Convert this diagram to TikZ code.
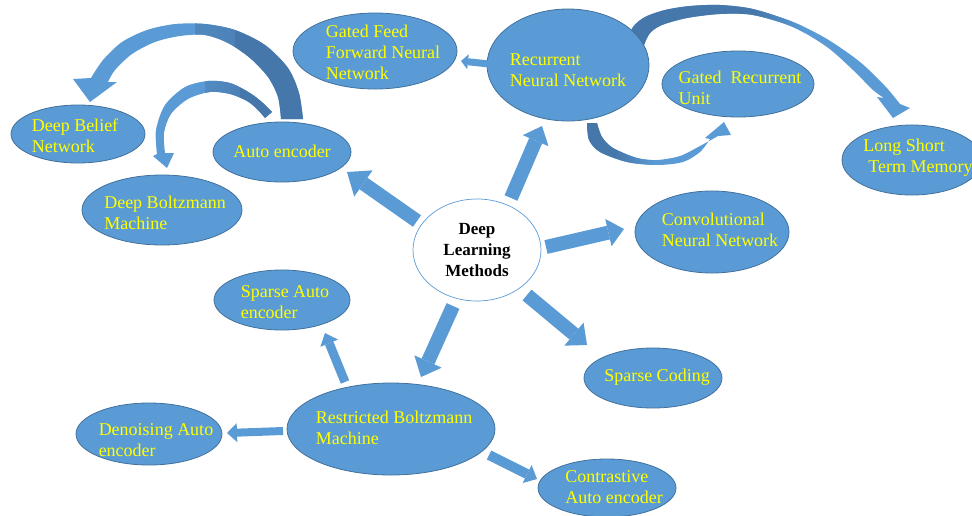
\documentclass[tikz,border=0pt]{standalone}
\usepackage{fontspec}
\setmainfont{Liberation Serif}
\usetikzlibrary{shapes.geometric,arrows.meta}
\definecolor{fillb}{HTML}{5B9BD5}
\definecolor{edgeb}{HTML}{41719C}
\definecolor{darkarc}{HTML}{4677AA}
\definecolor{txty}{HTML}{FFFF00}
\begin{document}
\begin{tikzpicture}[x=1pt,y=-1pt,
  ell/.style={ellipse, draw=edgeb, line width=0.8pt, fill=fillb, inner sep=0pt},
  lbl/.style={text=txty, align=left, font=\fontsize{18}{21}\selectfont, inner sep=0pt},
  barrow/.style n args={3}{draw=fillb, line width=#1, line cap=butt,
     -{Triangle[width=#2,length=#3,line width=0pt]}}]
\useasboundingbox (0,0) rectangle (972,515);
\fill[white] (0,0) rectangle (972,515);

% ---------- curved arrows ----------
% Auto encoder -> Deep Belief Network
\fill[fillb, path picture={
   \shade[left color=fillb, right color=darkarc] (195,0) rectangle (235,200);
   \fill[darkarc] (235,0) rectangle (330,200);}]
  plot[smooth] coordinates {(303,119) (299,93) (288,68) (265,45) (235,30) (205,24) (175,24) (147,30) (122,42) (103,60) (91,78)}
  -- (73,79) -- (90,102) -- (117,82)
  -- plot[smooth] coordinates {(108,82) (115,70) (132,54) (155,42) (180,36) (205,35) (228,43) (250,58) (268,77) (278,97) (281,119)}
  -- cycle;
% Auto encoder -> Deep Boltzmann Machine
\fill[fillb, path picture={
   \shade[left color=fillb, right color=darkarc] (205,0) rectangle (240,200);
   \fill[darkarc] (240,0) rectangle (300,200);}]
  plot[smooth] coordinates {(272,112) (263,103) (250,93) (230,83) (208,81) (185,87) (165,105) (156,130) (157,154)}
  -- (153,156) -- (167,168) -- (174,153)
  -- plot[smooth] coordinates {(165,153) (164,133) (171,114) (188,99) (210,92) (230,94) (247,101) (257,109) (265,118)}
  -- cycle;
% Recurrent NN -> Long Short Term Memory
\fill[fillb, path picture={
   \fill[darkarc] (600,0) rectangle (755,200);
   \shade[left color=darkarc, right color=fillb] (755,0) rectangle (805,200);}]
  plot[smooth] coordinates {(627,42) (633,27) (645,17) (665,10) (690,6) (720,5) (753,9) (793,22) (827,39) (860,62) (885,86) (900,104)}
  -- (910,108) -- (893,118) -- (877,97)
  -- plot[smooth] coordinates {(884,98) (873,90) (853,70) (827,47) (793,27) (753,15) (720,14) (687,18) (662,25) (650,33) (644,45)}
  -- cycle;
% Recurrent NN -> Gated Recurrent Unit
\fill[fillb, path picture={
   \fill[darkarc] (570,100) rectangle (615,200);
   \shade[left color=darkarc, right color=fillb] (615,100) rectangle (655,200);}]
  plot[smooth] coordinates {(587,123) (589,140) (600,152) (627,162) (657,165) (683,162) (700,152) (710,139)}
  -- (705,138) -- (724,122) -- (731,135)
  -- plot[smooth] coordinates {(718,136) (700,146) (680,156) (657,160) (637,158) (613,148) (602,137) (597,123)}
  -- cycle;

% ---------- ellipses ----------
\node[ellipse, draw=fillb, line width=0.7pt, fill=white, minimum width=128pt, minimum height=102pt, inner sep=0pt] (dlm) at (477,250) {};
\node[ell, minimum width=138pt, minimum height=60pt] (ae) at (282,152) {};
\node[ell, minimum width=134pt, minimum height=58pt] (dbn) at (78,134) {};
\node[ell, minimum width=160pt, minimum height=70pt] (dbm) at (162,210) {};
\node[ell, minimum width=164pt, minimum height=76pt] (gffnn) at (375,51) {};
\node[ell, minimum width=162pt, minimum height=112pt] (rnn) at (568,65) {};
\node[ell, minimum width=152pt, minimum height=66pt] (gru) at (738,84) {};
\node[ell, minimum width=140pt, minimum height=70pt] (lstm) at (912,160) {};
\node[ell, minimum width=154pt, minimum height=82pt] (cnn) at (712,232) {};
\node[ell, minimum width=138pt, minimum height=60pt] (sc) at (653,378) {};
\node[ell, minimum width=138pt, minimum height=58pt] (cae) at (607,488) {};
\node[ell, minimum width=136pt, minimum height=60pt] (sae) at (282,300) {};
\node[ell, minimum width=208pt, minimum height=92pt] (rbm) at (391,429) {};
\node[ell, minimum width=146pt, minimum height=62pt] (dae) at (149,434) {};

% ---------- labels ----------
\node[align=center, font=\fontsize{17}{21}\selectfont\bfseries, inner sep=0pt] (dlmt) at (477,250) {Deep\\Learning\\Methods};
\node[lbl] (aet) at (282,151) {Auto encoder};
\node[lbl] (dbnt) at (75,136) {Deep Belief\\Network};
\node[lbl] (dbmt) at (165,213) {Deep Boltzmann\\Machine};
\node[lbl] (gffnnt) at (383,52) {Gated Feed\\Forward Neural\\Network};
\node[lbl] (rnnt) at (568,70) {Recurrent\\Neural Network};
\node[lbl] (grut) at (740,88) {Gated\ \ Recurrent\\Unit};
\node[lbl] (lstmt) at (918,158) {Long Short\\\hspace*{5pt}Term Memory};
\node[lbl] (cnnt) at (720,230) {Convolutional\\Neural Network};
\node[lbl] (sct) at (657,377) {Sparse Coding};
\node[lbl] (caet) at (614,487) {Contrastive\\Auto encoder};
\node[lbl] (saet) at (285,302) {Sparse Auto\\encoder};
\node[lbl] (rbmt) at (394,428) {Restricted Boltzmann\\Machine};
\node[lbl] (daet) at (156,440) {Denoising Auto\\encoder};

% ---------- straight block arrows ----------
\coordinate (s1) at (417,221); \coordinate (e1) at (347,172);
\coordinate (s2) at (511,198); \coordinate (e2) at (542,126);
\coordinate (s3) at (546,247); \coordinate (e3) at (624,229);
\coordinate (s4) at (527,295); \coordinate (e4) at (587,345);
\coordinate (s5) at (453,306); \coordinate (e5) at (421,377);
\coordinate (s6) at (345,382); \coordinate (e6) at (325,333);
\coordinate (s7) at (283,431); \coordinate (e7) at (227,433);
\coordinate (s8) at (489,455); \coordinate (e8) at (537,479);
\coordinate (s9) at (489,64);  \coordinate (e9) at (461,61);
\draw[barrow={14pt}{32pt}{20pt}] (s1) -- (e1);
\draw[barrow={14pt}{28pt}{16pt}] (s2) -- (e2);
\draw[barrow={14pt}{28pt}{16pt}] (s3) -- (e3);
\draw[barrow={14pt}{30pt}{17pt}] (s4) -- (e4);
\draw[barrow={14pt}{30pt}{17pt}] (s5) -- (e5);
\draw[barrow={9pt}{19pt}{11pt}] (s6) -- (e6);
\draw[barrow={8pt}{19pt}{10pt}] (s7) -- (e7);
\draw[barrow={10pt}{20pt}{11pt}] (s8) -- (e8);
\draw[barrow={7pt}{15pt}{7pt}] (s9) -- (e9);
\end{tikzpicture}
\end{document}
